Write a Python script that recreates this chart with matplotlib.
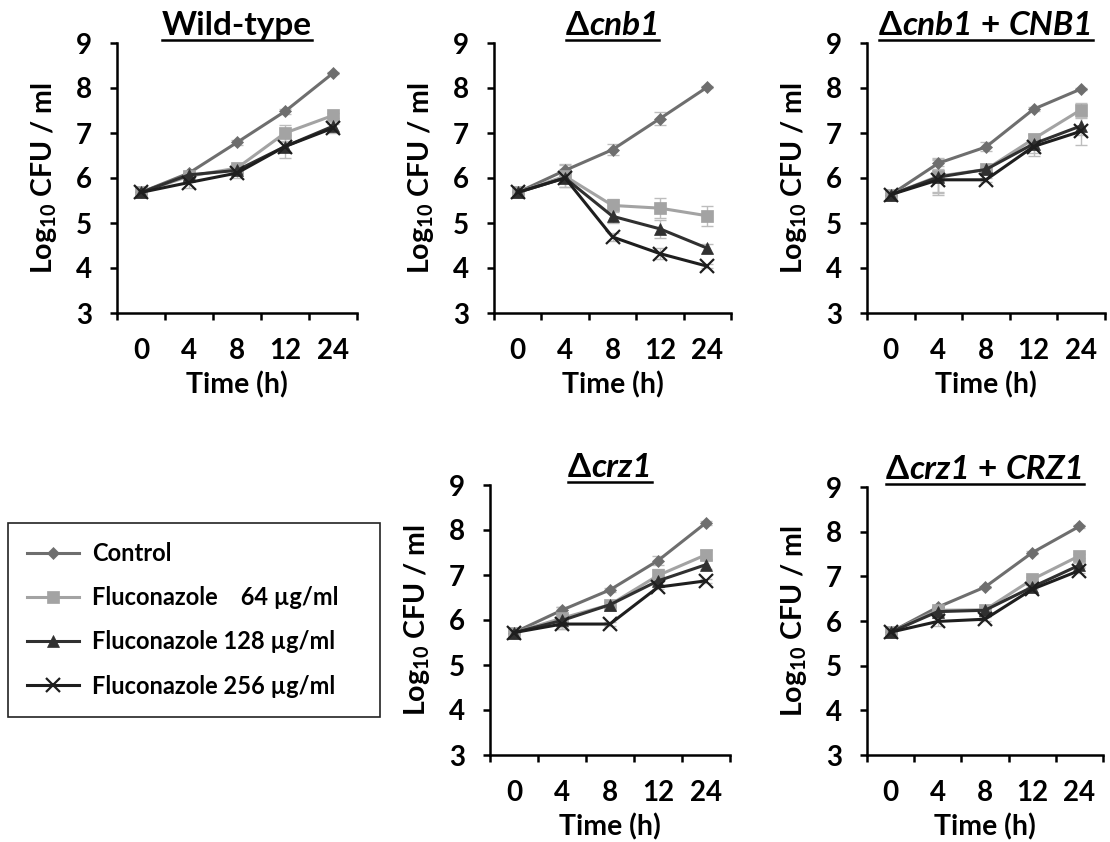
#!/usr/bin/env python3
"""Growth curves (log10 CFU/ml) of strains under fluconazole, 2x3 panel layout."""
import matplotlib
matplotlib.use('Agg')
import matplotlib.pyplot as plt
from matplotlib.lines import Line2D

plt.rcParams['font.family'] = ['Lato', 'DejaVu Sans']
plt.rcParams['font.weight'] = 'bold'
plt.rcParams['mathtext.fontset'] = 'custom'
plt.rcParams['mathtext.rm'] = 'Lato:bold'
plt.rcParams['mathtext.default'] = 'rm'

# x categories (hours)
times = ['0', '4', '8', '12', '24']

series_labels = ['Control',
                 'Fluconazole    64 \u00b5g/ml',
                 'Fluconazole 128 \u00b5g/ml',
                 'Fluconazole 256 \u00b5g/ml']

# Wild-type
wt_ctrl = [5.68, 6.11, 6.79, 7.48, 8.33]
wt_f64 = [5.68, 6.04, 6.22, 7.00, 7.39]
wt_f128 = [5.68, 6.07, 6.17, 6.70, 7.15]
wt_f256 = [5.68, 5.90, 6.11, 6.70, 7.11]
wt_err = [[0.03, 0.05, 0.06, 0.06, 0.03],
          [0.03, 0.08, 0.10, 0.18, 0.05],
          [0.03, 0.05, 0.08, 0.25, 0.10],
          [0.03, 0.12, 0.12, 0.10, 0.10]]

# cnb1 deletion
cnb_ctrl = [5.68, 6.17, 6.63, 7.32, 8.02]
cnb_f64 = [5.68, 6.04, 5.39, 5.33, 5.16]
cnb_f128 = [5.68, 6.00, 5.15, 4.87, 4.44]
cnb_f256 = [5.68, 6.00, 4.69, 4.32, 4.04]
cnb_err = [[0.03, 0.15, 0.12, 0.15, 0.03],
           [0.03, 0.25, 0.15, 0.22, 0.22],
           [0.03, 0.20, 0.15, 0.20, 0.10],
           [0.03, 0.10, 0.08, 0.12, 0.05]]

# cnb1 + CNB1 complemented
cnbc_ctrl = [5.63, 6.33, 6.69, 7.53, 7.98]
cnbc_f64 = [5.63, 6.04, 6.19, 6.87, 7.52]
cnbc_f128 = [5.63, 6.02, 6.19, 6.76, 7.16]
cnbc_f256 = [5.63, 5.96, 5.96, 6.70, 7.04]
cnbc_err = [[0.03, 0.12, 0.10, 0.05, 0.03],
            [0.03, 0.35, 0.05, 0.10, 0.15],
            [0.03, 0.40, 0.05, 0.20, 0.20],
            [0.03, 0.30, 0.05, 0.20, 0.30]]

# crz1 deletion
crz_ctrl = [5.72, 6.22, 6.67, 7.32, 8.16]
crz_f64 = [5.72, 6.04, 6.34, 6.99, 7.45]
crz_f128 = [5.72, 5.99, 6.34, 6.87, 7.23]
crz_f256 = [5.72, 5.91, 5.91, 6.73, 6.87]
crz_err = [[0.03, 0.08, 0.05, 0.10, 0.05],
           [0.03, 0.25, 0.05, 0.15, 0.10],
           [0.03, 0.15, 0.05, 0.10, 0.10],
           [0.03, 0.10, 0.05, 0.05, 0.05]]

# crz1 + CRZ1 complemented
crzc_ctrl = [5.75, 6.31, 6.76, 7.53, 8.12]
crzc_f64 = [5.75, 6.24, 6.25, 6.93, 7.46]
crzc_f128 = [5.75, 6.21, 6.24, 6.76, 7.25]
crzc_f256 = [5.75, 5.99, 6.04, 6.71, 7.13]
crzc_err = [[0.03, 0.03, 0.03, 0.03, 0.03],
            [0.03, 0.05, 0.05, 0.05, 0.05],
            [0.03, 0.05, 0.05, 0.05, 0.05],
            [0.03, 0.10, 0.05, 0.05, 0.05]]

# titles as (text, italic) pieces
wt_title = [('Wild-type', False)]
cnb_title = [('\u0394', False), ('cnb1', True)]
cnbc_title = [('\u0394', False), ('cnb1', True), ('+', False), ('CNB1', True)]
crz_title = [('\u0394', False), ('crz1', True)]
crzc_title = [('\u0394', False), ('crz1', True), ('+', False), ('CRZ1', True)]

panels = [
    (wt_title, [wt_ctrl, wt_f64, wt_f128, wt_f256], wt_err),
    (cnb_title, [cnb_ctrl, cnb_f64, cnb_f128, cnb_f256], cnb_err),
    (cnbc_title, [cnbc_ctrl, cnbc_f64, cnbc_f128, cnbc_f256], cnbc_err),
    (crz_title, [crz_ctrl, crz_f64, crz_f128, crz_f256], crz_err),
    (crzc_title, [crzc_ctrl, crzc_f64, crzc_f128, crzc_f256], crzc_err),
]

# axes boxes in pixels: left, top, right, bottom
W, H = 1110, 842
boxes = [(117, 43, 357, 313), (494, 43, 731, 313), (867, 43, 1105, 313),
         (490, 485, 730, 755), (867, 487, 1103, 755)]

colors = ['#6e6e6e', '#a3a3a3', '#303030', '#1e1e1e']
markers = ['D', 's', '^', 'x']
msizes = [6, 8, 9, 10]

TITLE_SIZE = 24


def main():
    fig = plt.figure(figsize=(W / 100, H / 100), dpi=100)
    x = list(range(len(times)))
    titles = []

    for (pieces, vals, errs), (l, t, r, b) in zip(panels, boxes):
        ax = fig.add_axes([l / W, 1 - b / H, (r - l) / W, (b - t) / H])
        for v, e in zip(vals, errs):
            ax.errorbar(x, v, yerr=e, fmt='none', ecolor='#bdbdbd',
                        elinewidth=1.0, capsize=4, capthick=1.0, zorder=1)
        for i, v in enumerate(vals):
            ax.plot(x, v, color=colors[i], marker=markers[i], ms=msizes[i],
                    mew=1.6 if markers[i] == 'x' else 0.5,
                    mec=colors[i], lw=2.2, label=series_labels[i],
                    zorder=2 + i)

        ax.set_xlim(-0.5, len(times) - 0.5)
        ax.set_ylim(3, 9)
        ax.set_yticks(range(3, 10))
        ax.set_xticks(x)
        ax.set_xticklabels(times)
        ax.set_xticks([i - 0.5 for i in range(len(times) + 1)], minor=True)
        ax.tick_params(axis='x', which='major', length=0, pad=18,
                       labelsize=20)
        ax.tick_params(axis='x', which='minor', length=5, width=1.8,
                       direction='out')
        ax.tick_params(axis='y', length=5, width=1.8, direction='out',
                       pad=13, labelsize=20)
        for lab in ax.get_xticklabels() + ax.get_yticklabels():
            lab.set_fontweight('bold')
        for side in ['top', 'right']:
            ax.spines[side].set_visible(False)
        for side in ['left', 'bottom']:
            ax.spines[side].set_linewidth(1.8)

        ax.set_xlabel('Time (h)', fontsize=20.5, fontweight='bold')
        ax.xaxis.set_label_coords(0.5, -58 / (b - t))
        ax.set_ylabel(r'Log$_{10}$ CFU / ml', fontsize=20.5,
                      fontweight='bold')
        ax.yaxis.set_label_coords(-58 / (r - l), 0.5)

        if pieces is wt_title:
            handles, labels = ax.get_legend_handles_labels()

        texts = []
        for s, italic in pieces:
            texts.append(fig.text(0, 1 - (t - 8) / H, s, fontsize=TITLE_SIZE,
                                  fontweight='bold',
                                  fontstyle='italic' if italic else 'normal',
                                  va='baseline', ha='left'))
        titles.append((texts, pieces, (l + r) / 2, t))

    leg = fig.legend(handles, labels, loc='upper left',
                     bbox_to_anchor=(8 / W, 1 - 720 / H, 372 / W, 197 / H),
                     mode='expand', fontsize=17, frameon=True,
                     fancybox=False, edgecolor='#222222', framealpha=1,
                     handlelength=2.2, handletextpad=0.55, labelspacing=0.9,
                     borderpad=0.8, borderaxespad=0)
    leg.get_frame().set_linewidth(1.2)
    for txt in leg.get_texts():
        txt.set_fontweight('bold')

    # lay out the title pieces side by side, then underline them
    fig.canvas.draw()
    renderer = fig.canvas.get_renderer()
    gap = 0.24 * TITLE_SIZE * 100 / 72
    for texts, pieces, xc, t in titles:
        widths = [tx.get_window_extent(renderer).width for tx in texts]
        gaps = [0] + [gap if (pieces[i][0] == '+' or pieces[i - 1][0] == '+')
                      else 0 for i in range(1, len(pieces))]
        total = sum(widths) + sum(gaps)
        xpos = xc - total / 2
        for tx, w, g in zip(texts, widths, gaps):
            xpos += g
            tx.set_x(xpos / W)
            xpos += w
        x0 = (xc - total / 2) / W
        x1 = (xc + total / 2) / W
        yline = 1 - (t - 3) / H
        fig.add_artist(Line2D([x0, x1], [yline, yline], color='black',
                              lw=1.8, transform=fig.transFigure))

    fig.savefig('out.png', dpi=100)


if __name__ == '__main__':
    main()
